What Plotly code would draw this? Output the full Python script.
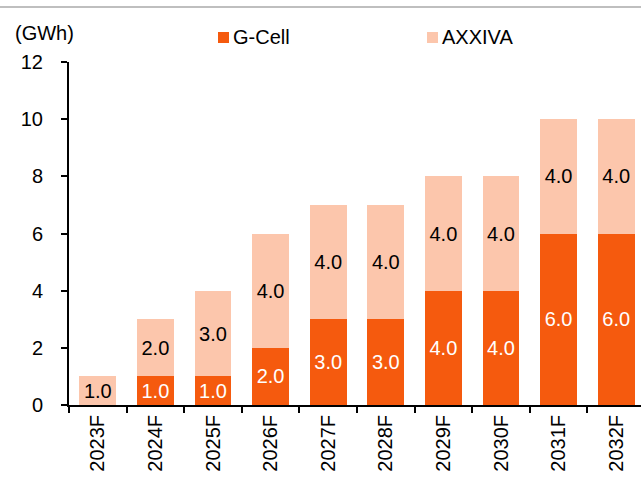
import plotly.graph_objects as go

categories = ["2023F", "2024F", "2025F", "2026F", "2027F", "2028F", "2029F", "2030F", "2031F", "2032F"]
gcell = [0, 1, 1, 2, 3, 3, 4, 4, 6, 6]
axxiva = [1, 2, 3, 4, 4, 4, 4, 4, 4, 4]
series_names = ["G-Cell", "AXXIVA"]
y_ticks = [0, 2, 4, 6, 8, 10, 12]
unit_label = "(GWh)"

C_G = "#F55A0E"
C_A = "#FCC6AC"
FONT = "Liberation Sans, Arial, sans-serif"

def labels(vals):
    return ["" if v == 0 else f"{v:.1f}" for v in vals]

fig = go.Figure()
fig.add_trace(go.Bar(
    x=categories, y=gcell, name=series_names[0], marker=dict(color=C_G, line=dict(width=0)),
    text=labels(gcell), textposition="inside", insidetextanchor="middle", textangle=0,
    textfont=dict(color="white", size=20, family=FONT), width=0.64,
))
fig.add_trace(go.Bar(
    x=categories, y=axxiva, name=series_names[1], marker=dict(color=C_A, line=dict(width=0)),
    text=labels(axxiva), textposition="inside", insidetextanchor="middle", textangle=0,
    textfont=dict(color="black", size=20, family=FONT), width=0.64,
))

L, T, W, H = 69, 62, 641, 477
B = H - 405
plot_w = W - L
cat_w = 57.6
xmax = -0.5 + plot_w / cat_w

fig.update_layout(
    width=W, height=H, barmode="stack", showlegend=False,
    margin=dict(l=L, r=0, t=T, b=B, pad=0),
    plot_bgcolor="white", paper_bgcolor="white",
    font=dict(family=FONT, size=20, color="black"),
)
fig.update_xaxes(
    range=[-0.5, xmax], showline=True, linecolor="black", linewidth=2,
    ticks="outside", tickson="boundaries", ticklen=6, tickwidth=2, tickcolor="black",
    tickangle=-90, tickfont=dict(size=20, family=FONT, color="black"), showgrid=False,
)
fig.update_yaxes(
    range=[0, 12], tickvals=y_ticks, showline=True, linecolor="black", linewidth=2,
    ticks="outside", ticklen=6, tickwidth=2, tickcolor="black", ticklabelstandoff=14,
    tickfont=dict(size=20, family=FONT, color="black"), showgrid=False, zeroline=False,
)

def px_x(px):
    return (px - L) / plot_w

def px_y(py):
    return (H - B - py) / (H - T - B)

# top border line
fig.add_shape(type="line", xref="paper", yref="paper", x0=px_x(0), x1=1, y0=px_y(7), y1=px_y(7),
              line=dict(color="#BFBFBF", width=2))

fig.add_annotation(text=unit_label, xref="paper", yref="paper", x=px_x(13), y=px_y(33),
                   xanchor="left", yanchor="middle", showarrow=False, font=dict(size=20, family=FONT))

# manual legend
for name, color, sx in [(series_names[0], C_G, 218), (series_names[1], C_A, 427)]:
    fig.add_shape(type="rect", xref="paper", yref="paper", x0=px_x(sx), x1=px_x(sx + 11),
                  y0=px_y(43), y1=px_y(32), fillcolor=color, line=dict(width=0))
    fig.add_annotation(text=name, xref="paper", yref="paper", x=px_x(sx + 13), y=px_y(37),
                       xanchor="left", yanchor="middle", showarrow=False, font=dict(size=20, family=FONT))

fig.write_html("out.html", config={"displayModeBar": False},
               post_script="document.body.style.margin='0';document.body.style.overflow='hidden';")
